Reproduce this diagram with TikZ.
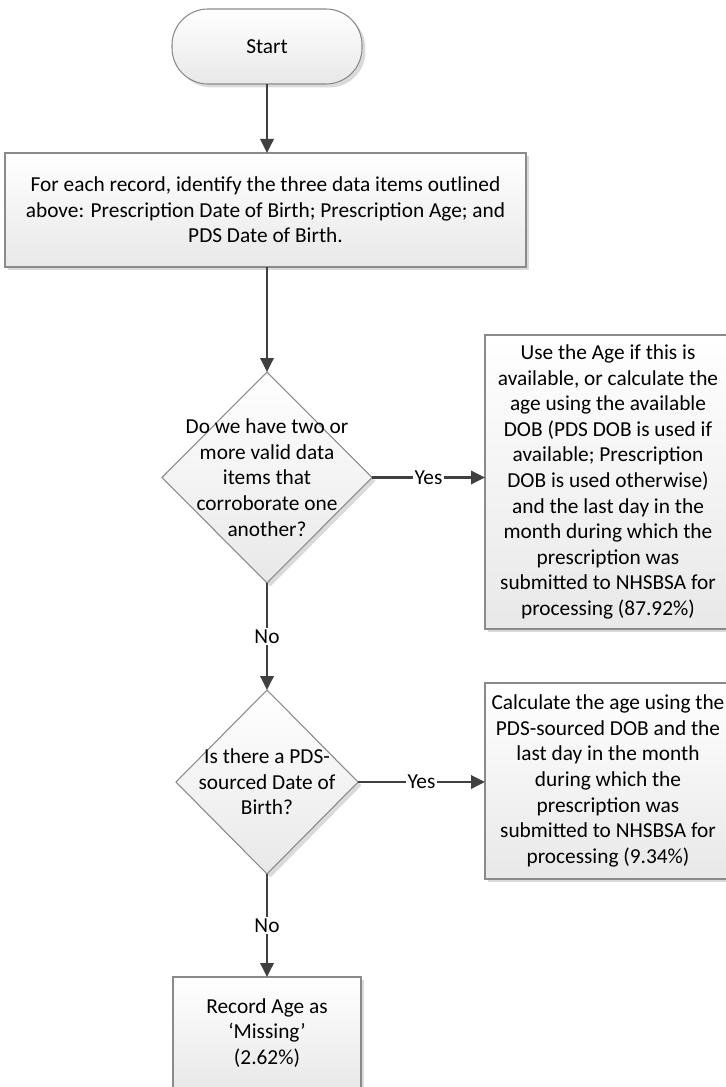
\documentclass[tikz,border=0pt]{standalone}
\usepackage{fontspec}
\setmainfont{Carlito}
\usetikzlibrary{shapes.geometric,shadows,arrows.meta}
\definecolor{edgegray}{HTML}{8A8A8A}
\definecolor{linegray}{HTML}{404040}
\definecolor{shadowgray}{HTML}{DADADA}
\begin{document}
\begin{tikzpicture}[x=0.75pt,y=-0.75pt,
  every node/.style={font=\fontsize{16pt}{19.2pt}\selectfont, text=black},
  shape base/.style={draw=edgegray, line width=0.8pt, top color=white, bottom color=black!9,
    drop shadow={shadow xshift=2.6pt, shadow yshift=-2.6pt, fill=shadowgray, opacity=1},
    inner sep=0pt, outer sep=0pt},
  procbox/.style={shape base, rectangle, align=center},
  termbox/.style={shape base, rectangle, rounded corners=27pt, align=center},
  decbox/.style={shape base, diamond},
  dectext/.style={align=center, inner sep=0pt},
  conn/.style={draw=linegray, line width=1.8pt, -{Triangle[length=10.5pt,width=10pt]}},
  lbl/.style={fill=white, inner sep=1.5pt}
]
\useasboundingbox (0,0) rectangle (725,1087);

\node[termbox, minimum width=142.5pt, minimum height=56.25pt] (start) at (267,46.5) {Start};

\node[procbox, minimum width=390.75pt, minimum height=85.5pt] (box1) at (265.5,210)
  {For each record, identify the three data items outlined\\above: Prescription Date of Birth; Prescription Age; and\\PDS Date of Birth.};

\node[decbox, minimum width=157.5pt, minimum height=158.25pt] (d1) at (267,477.5) {};
\node[dectext] (d1t) at (d1.center) {Do we have two or\\more valid data\\items that\\corroborate one\\another?};

\node[procbox, minimum width=184.5pt, minimum height=220.5pt] (box2) at (608,482)
  {Use the Age if this is\\available, or calculate the\\age using the available\\DOB (PDS DOB is used if\\available; Prescription\\DOB is used otherwise)\\and the last day in the\\month during which the\\prescription was\\submitted to NHSBSA for\\processing (87.92\%)};

\node[decbox, minimum width=136.5pt, minimum height=138pt] (d2) at (267,782) {};
\node[dectext] (d2t) at (d2.center) {Is there a PDS-\\sourced Date of\\Birth?};

\node[procbox, minimum width=184.5pt, minimum height=147pt] (box3) at (608,781)
  {Calculate the age using the\\PDS-sourced DOB and the\\last day in the month\\during which the\\prescription was\\submitted to NHSBSA for\\processing (9.34\%)};

\node[procbox, minimum width=141pt, minimum height=84pt] (box4) at (267,1033)
  {Record Age as\\‘Missing’\\(2.62\%)};

\draw[conn] (start.south) -- (start.south |- box1.north);
\draw[conn] (d1.north |- box1.south) -- (d1.north);
\draw[conn] (d1.south) -- node[lbl] (no1) {No} (d2.north);
\draw[conn] (d2.south) -- node[lbl] (no2) {No} (box4.north);
\draw[conn] (d1.east) -- node[lbl] (yes1) {Yes} (d1.east -| box2.west);
\draw[conn] (d2.east) -- node[lbl] (yes2) {Yes} (d2.east -| box3.west);
\end{tikzpicture}
\end{document}
